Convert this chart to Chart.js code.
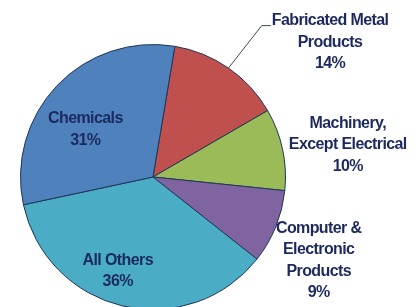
<!DOCTYPE html>
<html>
<head>
<meta charset="utf-8">
<script src="https://cdn.jsdelivr.net/npm/chart.js@4/dist/chart.umd.min.js"></script>
<style>
html,body{margin:0;padding:0;background:#fff;overflow:hidden;}
#wrap{position:absolute;left:0;top:0;width:417px;height:320px;}
</style>
</head>
<body>
<div id="wrap"><canvas id="c" width="417" height="320"></canvas></div>
<script>
const categories = ['Fabricated Metal Products', 'Machinery, Except Electrical', 'Computer & Electronic Products', 'All Others', 'Chemicals'];
const shares = [14, 10, 9, 36, 31];
const labelLines = [['Fabricated Metal', 'Products'], ['Machinery,', 'Except Electrical'], ['Computer &', 'Electronic', 'Products'], ['All Others'], ['Chemicals']];
const colors = ['#C0504D', '#9BBB59', '#8064A2', '#4BACC6', '#4F81BD'];

// label placement styles: radius factor and angle offset (deg) from slice middle
const labelPlacement = [
  {r: 1.68, da: 18, leader: true},
  {r: 1.49, da: 2.7},
  {r: 1.40, da: 4.6},
  {r: 0.76, da: 7.4},
  {r: 0.623, da: -8.7}
];

const labelPlugin = {
  id: 'sliceLabels',
  afterDatasetsDraw(chart) {
    const ctx = chart.ctx;
    const meta = chart.getDatasetMeta(0);
    const lh = 21.5;
    ctx.save();
    ctx.font = 'bold 16px "Liberation Sans", Arial, sans-serif';
    try { ctx.letterSpacing = '-0.6px'; } catch (e) {}
    ctx.fillStyle = '#1B2A5E';
    ctx.textAlign = 'center';
    ctx.textBaseline = 'middle';
    meta.data.forEach((arc, i) => {
      const p = arc.getProps(['x', 'y', 'startAngle', 'endAngle', 'outerRadius'], true);
      const mid = (p.startAngle + p.endAngle) / 2;
      const pl = labelPlacement[i];
      const a = mid + pl.da * Math.PI / 180;
      const cx = p.x + Math.cos(a) * p.outerRadius * pl.r;
      const cy = p.y + Math.sin(a) * p.outerRadius * pl.r;
      const lines = labelLines[i].concat([shares[i] + '%']);
      const top = cy - (lines.length - 1) * lh / 2;
      lines.forEach((t, k) => ctx.fillText(t, cx, top + k * lh));
      if (pl.leader) {
        const w = ctx.measureText(lines[0]).width;
        const lx = cx - w / 2 - 1;
        const ly = top + 5;
        const ex = p.x + Math.cos(mid) * p.outerRadius;
        const ey = p.y + Math.sin(mid) * p.outerRadius;
        ctx.strokeStyle = '#404858';
        ctx.lineWidth = 1;
        ctx.beginPath();
        ctx.moveTo(ex, ey);
        ctx.lineTo(lx - 9, ly);
        ctx.lineTo(lx, ly);
        ctx.stroke();
      }
    });
    ctx.restore();
  }
};

new Chart(document.getElementById('c'), {
  type: 'pie',
  data: {
    labels: categories,
    datasets: [{
      data: shares,
      backgroundColor: colors,
      borderColor: '#1F3557',
      borderWidth: 1
    }]
  },
  options: {
    responsive: false,
    animation: false,
    rotation: 9.5,
    layout: {padding: {left: 20, right: 131, top: 44, bottom: 10}},
    plugins: {
      legend: {display: false},
      tooltip: {enabled: false}
    }
  },
  plugins: [labelPlugin]
});
</script>
</body>
</html>
